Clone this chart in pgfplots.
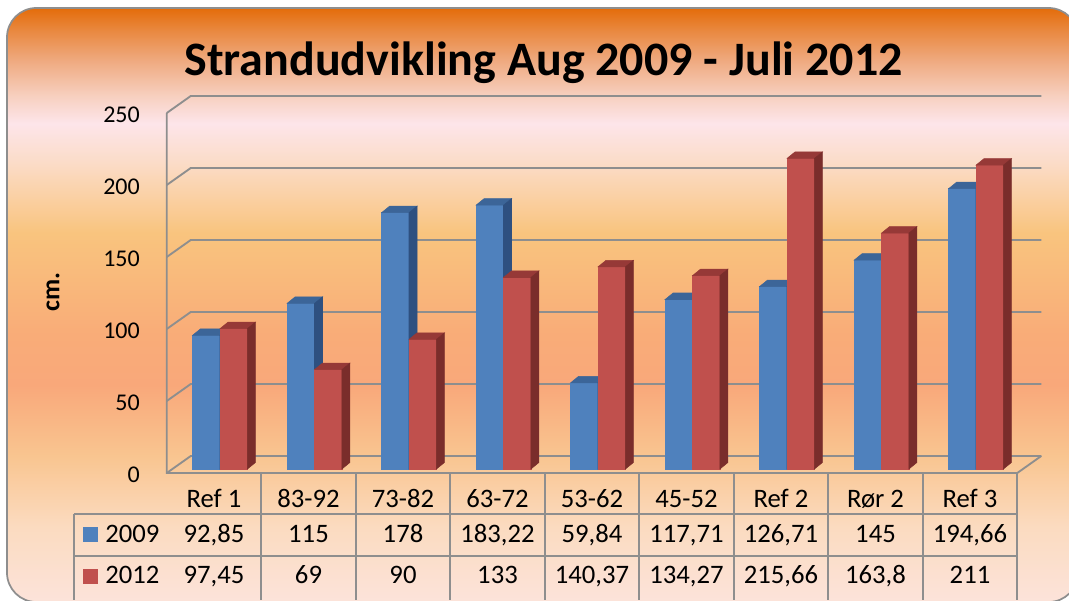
\documentclass[border=0pt]{standalone}
\usepackage{pgfplots}
\pgfplotsset{compat=1.18}
\usepackage{pgfplotstable}
\usepackage{fontspec}
\setmainfont{Carlito}

\definecolor{bluefront}{HTML}{4F81BD}
\definecolor{bluetop}{HTML}{3C6598}
\definecolor{blueside}{HTML}{2E5080}
\definecolor{redfront}{HTML}{C0504D}
\definecolor{redtop}{HTML}{963937}
\definecolor{redside}{HTML}{7A2D2B}
\definecolor{gridgray}{HTML}{8E8E8E}

\definecolor{cA}{HTML}{FCE3DA}
\definecolor{cB}{HTML}{FBDBC0}
\definecolor{cC}{HTML}{F9C590}
\definecolor{cD}{HTML}{F9A87A}
\definecolor{cE}{HTML}{F9AC78}
\definecolor{cF}{HTML}{F9C47E}
\definecolor{cG}{HTML}{FBDCC8}
\definecolor{cH}{HTML}{FDE5EA}
\definecolor{cI}{HTML}{F7D0C0}
\definecolor{cJ}{HTML}{EFAA80}
\definecolor{cK}{HTML}{E9883F}
\definecolor{cL}{HTML}{E46C0A}

\pgfdeclareverticalshading{bgshade}{100bp}{%
 color(0bp)=(cA); color(25bp)=(cA); color(31.31bp)=(cB); color(37.29bp)=(cC);
 color(43.26bp)=(cD); color(47.53bp)=(cE); color(56.06bp)=(cF); color(62.03bp)=(cG);
 color(65.27bp)=(cH); color(67.58bp)=(cI); color(70.56bp)=(cJ); color(73.12bp)=(cK);
 color(75bp)=(cL); color(100bp)=(cL)}

\pgfplotstableread{
idx v2009 v2012
0 92.85 97.45
1 115 69
2 178 90
3 183.22 133
4 59.84 140.37
5 117.71 134.27
6 126.71 215.66
7 145 163.8
8 194.66 211
}\datatable

\pgfdeclareplotmark{nothing}{}
\pgfplotsset{
 face3d/.style n args={4}{
   scatter, only marks, mark=nothing,
   visualization depends on={rawy \as \yv},
   scatter/@pre marker code/.code={%
     \fill[#4] (0pt,0pt) -- ++(axis direction cs:#1,0) -- ++(axis direction cs:0,-\yv) -- ++(axis direction cs:-#1,0) -- cycle;
     \fill[#2] (axis direction cs:#1,0) -- (0pt,0pt) -- ++(6pt,4.875pt) -- ++(axis direction cs:#1,0) -- cycle;
     \fill[#3] (0pt,0pt) -- ++(6pt,4.875pt) -- ++(axis direction cs:0,-\yv) -- ++(-6pt,-4.875pt) -- cycle;
   },
   scatter/@post marker code/.code={},
 }
}

\begin{document}
\begin{tikzpicture}
\begin{scope}[x=0.75pt,y=-0.75pt,shift={(-172.75,-469)}]
  \useasboundingbox (0,0) rectangle (1069,596);
  % background
  \shade[shading=bgshade, rounded corners=22pt] (7,8) rectangle (1078,602);
  \draw[gridgray, line width=1.3pt, rounded corners=22pt] (7,8) rectangle (1078,602);
  % title
  \node[anchor=base, font=\fontsize{36}{40}\selectfont\bfseries, inner sep=0pt] at (543.5,75) {Strandudvikling Aug 2009 - Juli 2012};
  % y label
  \node[rotate=90, font=\fontsize{19.5}{22}\selectfont\bfseries, inner sep=0pt] at (53,292) {cm.};
  % walls and grid
  \foreach \v in {0,50,...,250} {
    \draw[gridgray, line width=1.4pt] (166.75,{473-1.44*\v}) -- (190.75,{456-1.44*\v}) -- (1041.25,{456-1.44*\v});
  }
  \draw[gridgray, line width=1.4pt] (166.75,113) -- (166.75,473) -- (1017.25,473) -- (1041.25,456);
\end{scope}

\begin{axis}[
  at={(0,0)}, anchor=south west,
  scale only axis, width=637.875pt, height=270pt,
  xmin=-0.5, xmax=8.5, ymin=0, ymax=250,
  axis line style={draw=none}, tick style={draw=none},
  xtick=\empty,
  ytick={0,50,...,250},
  /pgf/number format/assume math mode=true,
  yticklabel style={anchor=east, inner sep=0pt, xshift=-24.5pt, yshift=-4.5pt, font=\fontsize{18}{20}\selectfont},
  clip=false,
]
\addplot[ybar, bar width=0.29, bar shift=-0.145, fill=bluefront, draw=none] table[x=idx, y=v2009] {\datatable};
\addplot[ybar, bar width=0.29, bar shift=0.145, fill=redfront, draw=none] table[x=idx, y=v2012] {\datatable};
\addplot[face3d={-0.29}{bluetop}{blueside}{bluefront}] table[x=idx, y=v2009] {\datatable};
\addplot[face3d={-0.29}{redtop}{redside}{redfront}] table[x expr=\thisrow{idx}+0.29, y=v2012] {\datatable};
\end{axis}

\begin{scope}[x=0.75pt,y=-0.75pt,shift={(-172.75,-469)}]
  % table lines
  \draw[gridgray, line width=1.4pt] (74,514) -- (1017.25,514);
  \draw[gridgray, line width=1.4pt] (74,556) -- (1017.25,556);
  \draw[gridgray, line width=1.4pt] (74,514) -- (74,600);
  \foreach \k in {1,...,9} {
    \draw[gridgray, line width=1.4pt] ({166.75+94.5*\k},473) -- ({166.75+94.5*\k},600);
  }
  \fill[bluefront] (83,527) rectangle (98,542);
  \fill[redfront] (83,569) rectangle (98,584);
  \begin{scope}[every node/.style={font=\fontsize{20}{22}\selectfont, inner sep=0pt}]
  \node[anchor=base west] at (105,542) {2009};
  \node[anchor=base west] at (105,583) {2012};
  \foreach \h/\a/\b [count=\i from 0] in {Ref 1/{92,85}/{97,45}, 83-92/115/69, 73-82/178/90, 63-72/{183,22}/133, 53-62/{59,84}/{140,37}, 45-52/{117,71}/{134,27}, Ref 2/{126,71}/{215,66}, Rør 2/145/{163,8}, Ref 3/{194,66}/211} {
    \node[anchor=base] at ({214+94.5*\i},507) {\h};
    \node[anchor=base] at ({214+94.5*\i},542) {\a};
    \node[anchor=base] at ({214+94.5*\i},583) {\b};
  }
  \end{scope}
\end{scope}
\end{tikzpicture}
\end{document}
